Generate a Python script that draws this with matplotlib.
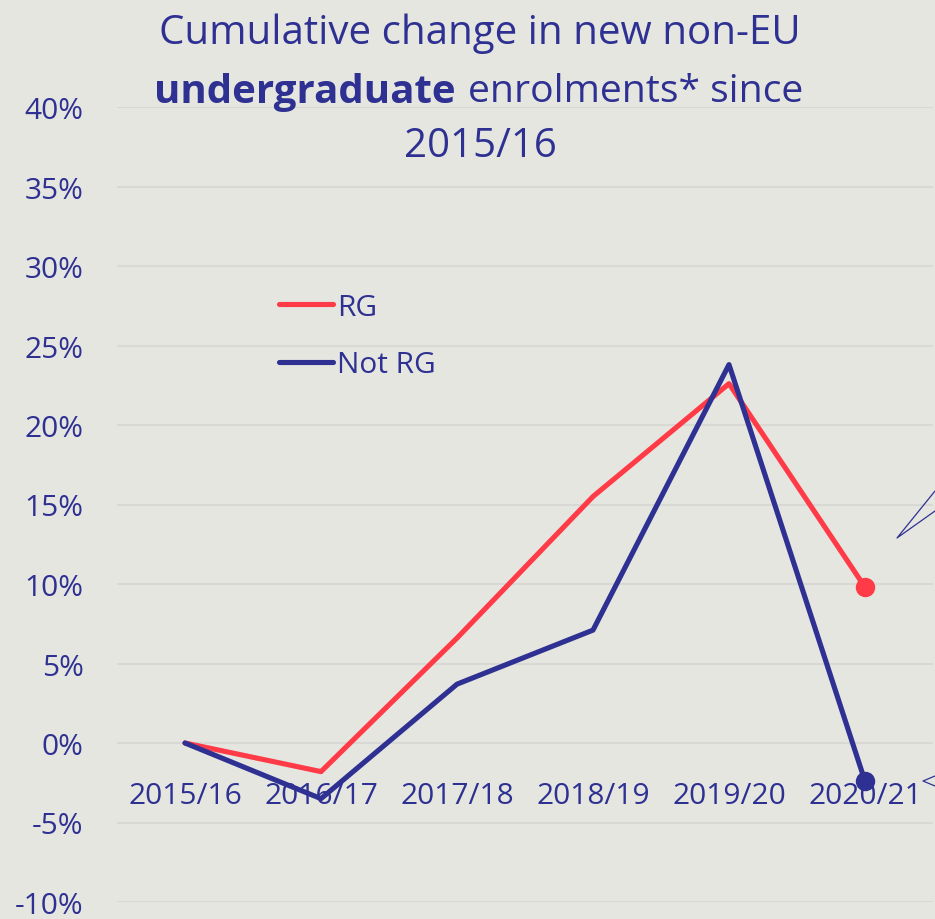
import matplotlib
matplotlib.use('Agg')
import matplotlib.pyplot as plt
from matplotlib.lines import Line2D

# Data
years = ['2015/16', '2016/17', '2017/18', '2018/19', '2019/20', '2020/21']
rg = [0.0, -1.8, 6.6, 15.5, 22.6, 9.8]
not_rg = [0.0, -3.5, 3.7, 7.1, 23.8, -2.4]
y_ticks = [-10, -5, 0, 5, 10, 15, 20, 25, 30, 35, 40]

navy = '#2E3192'
red = '#FF3B47'
bg = '#E6E6E1'
grid = '#D8D8D5'

plt.rcParams['font.family'] = ['Open Sans', 'DejaVu Sans']

W, H = 935, 920
fig = plt.figure(figsize=(W / 100, H / 100), dpi=100, facecolor=bg)
ax = fig.add_axes([117 / W, 17 / H, 816 / W, 795 / H])
ax.set_facecolor(bg)

x = list(range(len(years)))
ax.plot(x, rg, color=red, lw=3.7, marker='o', markersize=13, markevery=[5],
        solid_capstyle='round', label='RG')
ax.plot(x, not_rg, color=navy, lw=3.7, marker='o', markersize=13, markevery=[5],
        solid_capstyle='round', label='Not RG')

ax.set_xlim(-0.5, len(years) - 0.5)
ax.set_ylim(-10, 40)
ax.set_yticks(y_ticks)
ax.set_yticklabels([f'{v}%' for v in y_ticks])
ax.yaxis.grid(True, color=grid, lw=1.5)
ax.set_axisbelow(True)
for s in ax.spines.values():
    s.set_visible(False)
ax.spines['bottom'].set_position(('data', 0))
ax.set_xticks(x)
ax.set_xticklabels(years)
ax.tick_params(axis='x', length=0, pad=27.5, labelsize=21.5, labelcolor=navy)
ax.tick_params(axis='y', length=0, pad=24, labelsize=21.5, labelcolor=navy)

handles = [Line2D([], [], color=red, lw=3.7, solid_capstyle='round'),
           Line2D([], [], color=navy, lw=3.7, solid_capstyle='round')]
leg = ax.legend(handles, ['RG', 'Not RG'], loc='upper left',
                bbox_to_anchor=((252 - 117) / 816, (903 - 267) / 795),
                frameon=False, fontsize=21.5, handlelength=1.8,
                handletextpad=0.15, labelspacing=0.95, labelcolor=navy)

# title
fig.text(480 / W, 1 - 34 / H, 'Cumulative change in new non-EU', ha='center', va='center',
         fontsize=29, color=navy)
fig.text(456 / W, 1 - 92 / H, 'undergraduate', ha='right', va='center',
         fontsize=29, color=navy, fontweight='bold')
fig.text(468 / W, 1 - 92 / H, 'enrolments* since', ha='left', va='center',
         fontsize=28.2, color=navy)
fig.text(480 / W, 1 - 147 / H, '2015/16', ha='center', va='center',
         fontsize=29, color=navy)

# callout pointer fragments at the right edge
def px_line(xs, ys):
    fig.add_artist(Line2D([v / W for v in xs], [1 - v / H for v in ys],
                          color=navy, lw=0.9, transform=fig.transFigure))

px_line([935, 897, 935], [492, 539, 512])
px_line([935, 923, 935], [777, 782, 787])

fig.savefig('out.png', dpi=100, facecolor=bg)
